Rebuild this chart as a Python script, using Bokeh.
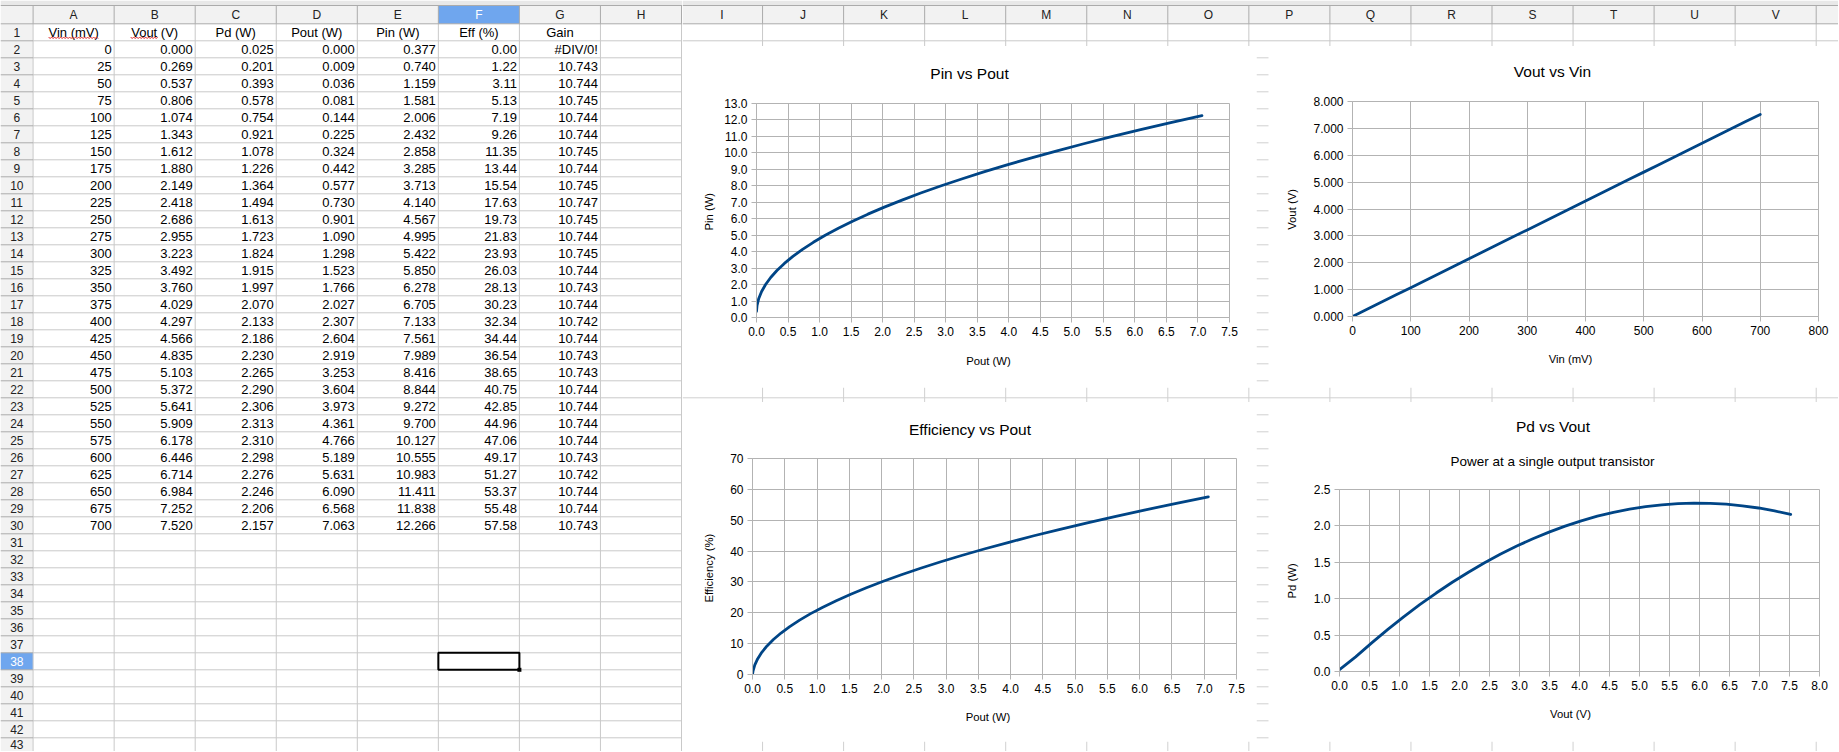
import numpy as np
from bokeh.plotting import figure
from bokeh.models import Range1d, FixedTicker, NumeralTickFormatter
from bokeh.layouts import row, column
from bokeh.core.properties import value
from bokeh.embed import file_html
from bokeh.resources import INLINE

# ---------------- data (read from the sheet) ----------------
vin_mv = [0, 25, 50, 75, 100, 125, 150, 175, 200, 225, 250, 275, 300, 325, 350,
          375, 400, 425, 450, 475, 500, 525, 550, 575, 600, 625, 650, 675, 700]
vout_v = [0.000, 0.269, 0.537, 0.806, 1.074, 1.343, 1.612, 1.880, 2.149, 2.418,
          2.686, 2.955, 3.223, 3.492, 3.760, 4.029, 4.297, 4.566, 4.835, 5.103,
          5.372, 5.641, 5.909, 6.178, 6.446, 6.714, 6.984, 7.252, 7.520]
pd_w = [0.025, 0.201, 0.393, 0.578, 0.754, 0.921, 1.078, 1.226, 1.364, 1.494,
        1.613, 1.723, 1.824, 1.915, 1.997, 2.070, 2.133, 2.186, 2.230, 2.265,
        2.290, 2.306, 2.313, 2.310, 2.298, 2.276, 2.246, 2.206, 2.157]
pout_w = [0.000, 0.009, 0.036, 0.081, 0.144, 0.225, 0.324, 0.442, 0.577, 0.730,
          0.901, 1.090, 1.298, 1.523, 1.766, 2.027, 2.307, 2.604, 2.919, 3.253,
          3.604, 3.973, 4.361, 4.766, 5.189, 5.631, 6.090, 6.568, 7.063]
pin_w = [0.377, 0.740, 1.159, 1.581, 2.006, 2.432, 2.858, 3.285, 3.713, 4.140,
         4.567, 4.995, 5.422, 5.850, 6.278, 6.705, 7.133, 7.561, 7.989, 8.416,
         8.844, 9.272, 9.700, 10.127, 10.555, 10.983, 11.411, 11.838, 12.266]
eff_pct = [0.00, 1.22, 3.11, 5.13, 7.19, 9.26, 11.35, 13.44, 15.54, 17.63,
           19.73, 21.83, 23.93, 26.03, 28.13, 30.23, 32.34, 34.44, 36.54, 38.65,
           40.75, 42.85, 44.96, 47.06, 49.17, 51.27, 53.37, 55.48, 57.58]
gain = [None, 10.743, 10.744, 10.745, 10.744, 10.744, 10.745, 10.744, 10.745,
        10.747, 10.745, 10.744, 10.745, 10.744, 10.743, 10.744, 10.742, 10.744,
        10.743, 10.743, 10.744, 10.744, 10.744, 10.744, 10.743, 10.742, 10.744,
        10.744, 10.743]

headers = ["Vin (mV)", "Vout (V)", "Pd (W)", "Pout (W)", "Pin (W)", "Eff (%)", "Gain"]
col_letters = ["A", "B", "C", "D", "E", "F", "G", "H", "I", "J", "K", "L", "M",
               "N", "O", "P", "Q", "R", "S", "T", "U", "V"]

# ---------------- styling / geometry ----------------
FONT = "Liberation Sans"
SERIES = "#004586"
GRID = "#b3b3b3"
CELL_LINE = "#c9c9c9"
GAP_LINE = "#d0d0d0"
HDR_LINE = "#ababab"
HDR_BG = "#f2f2f2"
TOP_BG = "#e8e8e8"
SEL_BLUE = "#6fa6ee"

VIEW_X0, VIEW_X1, VIEW_Y0, VIEW_Y1 = 0, 1838, 0, 751
ROWHDR_W = 32.6
COL_W = 81.05
HDR_TOP, HDR_BOT = 5.0, 23.3
ROW_H = 17.0
SPLIT_X = 682
BAND_Y = 46
GAP_Y0, GAP_Y1 = 387, 402
BOT_Y = 740
GAP_X0, GAP_X1 = 1256, 1272

col_edges = [ROWHDR_W + COL_W * k for k in range(23)]
row_edges = [HDR_BOT + ROW_H * r for r in range(45)]


def canvas(x0, x1, y0, y1):
    p = figure(width=int(round(x1 - x0)), height=int(round(y1 - y0)),
               x_range=Range1d(x0, x1), y_range=Range1d(y1, y0),
               x_axis_location=None, y_axis_location=None, title=None,
               output_backend="svg", toolbar_location=None, min_border=0)
    p.grid.visible = False
    p.outline_line_color = None
    p.background_fill_color = "white"
    p.border_fill_color = "white"
    return p


def txt(p, xs, ys, ts, align="center", size="13px", color="black", angle=0.0):
    p.text(x=xs, y=ys, text=ts, text_align=align, text_baseline="middle",
           text_font=value(FONT), text_font_size=value(size), text_color=color,
           angle=angle)


# ---------------- left part of the sheet ----------------
sheet = canvas(VIEW_X0, SPLIT_X, VIEW_Y0, VIEW_Y1)
sheet.quad(left=[0], right=[SPLIT_X], top=[0], bottom=[HDR_TOP],
           fill_color=TOP_BG, line_color=None)
sheet.quad(left=[0], right=[SPLIT_X], top=[HDR_TOP], bottom=[HDR_BOT],
           fill_color=HDR_BG, line_color=None)
sheet.quad(left=[0], right=[ROWHDR_W], top=[HDR_BOT], bottom=[760],
           fill_color=HDR_BG, line_color=None)
sheet.quad(left=[col_edges[5]], right=[col_edges[6]], top=[HDR_TOP], bottom=[HDR_BOT],
           fill_color=SEL_BLUE, line_color=None)
sheet.quad(left=[0], right=[ROWHDR_W], top=[row_edges[37]], bottom=[row_edges[38]],
           fill_color=SEL_BLUE, line_color=None)
vx = col_edges[:9]
sheet.segment(x0=vx, y0=[HDR_BOT] * len(vx), x1=vx, y1=[760] * len(vx),
              line_color=CELL_LINE, line_width=1)
sheet.segment(x0=vx, y0=[HDR_TOP] * len(vx), x1=vx, y1=[HDR_BOT] * len(vx),
              line_color=HDR_LINE, line_width=1)
hy = row_edges[1:44]
sheet.segment(x0=[ROWHDR_W] * len(hy), y0=hy, x1=[SPLIT_X] * len(hy), y1=hy,
              line_color=CELL_LINE, line_width=1)
sheet.segment(x0=[0] * len(hy), y0=hy, x1=[ROWHDR_W] * len(hy), y1=hy,
              line_color=HDR_LINE, line_width=1)
sheet.segment(x0=[0, 0], y0=[HDR_TOP, HDR_BOT], x1=[SPLIT_X, SPLIT_X], y1=[HDR_TOP, HDR_BOT],
              line_color=HDR_LINE)
cx = [(col_edges[k] + col_edges[k + 1]) / 2 for k in range(8)]
hdr_mid = (HDR_TOP + HDR_BOT) / 2
txt(sheet, [c for k, c in enumerate(cx) if k != 5], [hdr_mid] * 7,
    [col_letters[k] for k in range(8) if k != 5], size="12px", color="#222222")
txt(sheet, [cx[5]], [hdr_mid], ["F"], size="12px", color="white")
rnum = list(range(1, 44))
rc = [(row_edges[r - 1] + row_edges[r]) / 2 for r in rnum]
rc_lbl = [min(y, VIEW_Y1 - 7) for y in rc]   # keep the last, partly hidden row label on the page
txt(sheet, [ROWHDR_W / 2] * 42, [y for r, y in zip(rnum, rc_lbl) if r != 38],
    [str(r) for r in rnum if r != 38], size="12px", color="#222222")
txt(sheet, [ROWHDR_W / 2], [rc[37]], ["38"], size="12px", color="white")
txt(sheet, cx[:7], [rc[0]] * 7, headers)
for xa, xb in [(cx[0] - 25, cx[0] + 25), (cx[1] - 24, cx[1] + 3)]:
    wx = np.arange(xa, xb + 0.1, 1.5)
    wy = rc[0] + 5.5 + np.where(np.arange(len(wx)) % 2 == 0, -0.8, 0.8)
    sheet.line(wx, wy, line_color="#e03030", line_width=1)
cols_fmt = [
    [f"{v:d}" for v in vin_mv],
    [f"{v:.3f}" for v in vout_v],
    [f"{v:.3f}" for v in pd_w],
    [f"{v:.3f}" for v in pout_w],
    [f"{v:.3f}" for v in pin_w],
    [f"{v:.2f}" for v in eff_pct],
    ["#DIV/0!" if v is None else f"{v:.3f}" for v in gain],
]
for k, vals in enumerate(cols_fmt):
    n = len(vals)
    txt(sheet, [col_edges[k + 1] - 2.5] * n, rc[1:1 + n], vals, align="right")
sheet.quad(left=[col_edges[5]], right=[col_edges[6]], top=[row_edges[37]],
           bottom=[row_edges[38]], fill_color=None, line_color="black", line_width=2)
sheet.rect(x=[col_edges[6]], y=[row_edges[38]], width=4, height=4,
           fill_color="black", line_color=None)

# ---------------- top band over the chart area ----------------
band = canvas(SPLIT_X, VIEW_X1, VIEW_Y0, BAND_Y)
band.quad(left=[SPLIT_X], right=[VIEW_X1 + 10], top=[0], bottom=[HDR_TOP],
          fill_color=TOP_BG, line_color=None)
band.quad(left=[SPLIT_X], right=[VIEW_X1 + 10], top=[HDR_TOP], bottom=[HDR_BOT],
          fill_color=HDR_BG, line_color=None)
bx = col_edges[8:23]
band.segment(x0=bx, y0=[HDR_BOT] * len(bx), x1=bx, y1=[BAND_Y + 2] * len(bx),
             line_color=CELL_LINE)
band.segment(x0=bx, y0=[HDR_TOP] * len(bx), x1=bx, y1=[HDR_BOT] * len(bx),
             line_color=HDR_LINE)
band.segment(x0=[SPLIT_X] * 2, y0=[HDR_TOP, HDR_BOT], x1=[VIEW_X1 + 10] * 2,
             y1=[HDR_TOP, HDR_BOT], line_color=HDR_LINE)
band.segment(x0=[SPLIT_X], y0=[row_edges[1]], x1=[VIEW_X1 + 10], y1=[row_edges[1]],
             line_color=CELL_LINE)
bcx = [(col_edges[k] + col_edges[k + 1]) / 2 for k in range(8, 22)]
txt(band, bcx, [hdr_mid] * len(bcx), col_letters[8:22], size="12px", color="#222222")


# ---------------- gaps between the charts ----------------
def vgap(y0, y1):
    g = canvas(GAP_X0, GAP_X1, y0, y1)
    ys = [y for y in row_edges if y0 < y < y1]
    g.segment(x0=[GAP_X0] * len(ys), y0=ys, x1=[GAP_X1 - 4] * len(ys), y1=ys,
              line_color=GAP_LINE)
    return g


def hgap(y0, y1, with_row_line):
    g = canvas(SPLIT_X, VIEW_X1, y0, y1)
    gx = col_edges[9:23]
    g.segment(x0=gx, y0=[y0] * len(gx), x1=gx, y1=[y1 + 2] * len(gx), line_color=GAP_LINE)
    if with_row_line:
        ys = [y for y in row_edges if y0 < y < y1]
        g.segment(x0=[SPLIT_X] * len(ys), y0=ys, x1=[VIEW_X1 + 10] * len(ys), y1=ys,
                  line_color=GAP_LINE)
    return g


gv1 = vgap(BAND_Y, GAP_Y0)
gv2 = vgap(GAP_Y1, BOT_Y)
gh = hgap(GAP_Y0, GAP_Y1, True)
gb = hgap(BOT_Y, VIEW_Y1, False)


# ---------------- the four charts ----------------
def chart_box(box, frame, T, L, Bc, xr, yr, xticks, yticks, xfmt, yfmt, xs, ys,
              titles, xlabel, ylabel):
    bx0, by0, bx1, by1 = box
    fl, ft, fr, fb = frame
    tc = canvas(bx0, bx1, by0, T)
    for text, px, py, size in titles:
        txt(tc, [px], [py], [text], size=size)
    lc = canvas(bx0, L, T, Bc)
    txt(lc, [ylabel[1]], [ylabel[2]], [ylabel[0]], size="11.3px", angle=np.pi / 2)
    bc = canvas(bx0, bx1, Bc, by1)
    txt(bc, [xlabel[1]], [xlabel[2]], [xlabel[0]], size="11.3px")

    p = figure(width=bx1 - L, height=Bc - T, title=None,
               x_range=Range1d(*xr), y_range=Range1d(*yr),
               min_border_left=fl - L, min_border_right=bx1 - fr,
               min_border_top=ft - T, min_border_bottom=Bc - fb,
               output_backend="svg", toolbar_location=None)
    p.background_fill_color = "white"
    p.border_fill_color = "white"
    p.outline_line_color = GRID
    p.xaxis.ticker = FixedTicker(ticks=xticks, minor_ticks=[])
    p.yaxis.ticker = FixedTicker(ticks=yticks, minor_ticks=[])
    p.xaxis.formatter = NumeralTickFormatter(format=xfmt)
    p.yaxis.formatter = NumeralTickFormatter(format=yfmt)
    for ax in (p.xaxis[0], p.yaxis[0]):
        ax.axis_line_color = GRID
        ax.major_tick_line_color = GRID
        ax.major_tick_out = 5
        ax.major_tick_in = 0
        ax.minor_tick_line_color = None
        ax.major_label_text_font = FONT
        ax.major_label_text_font_size = "12px"
        ax.major_label_text_color = "black"
        ax.major_label_standoff = 4
    p.grid.grid_line_color = GRID
    p.grid.grid_line_width = 1
    p.line(xs, ys, line_color=SERIES, line_width=2.8, line_join="round", line_cap="round")
    return column(tc, row(lc, p), bc)


half_steps_75 = [round(0.5 * i, 1) for i in range(16)]
half_steps_80 = [round(0.5 * i, 1) for i in range(17)]

c1 = chart_box((SPLIT_X, BAND_Y, GAP_X0, GAP_Y0), (756, 103, 1229, 317), 91, 718, 346,
               (0, 7.5), (0, 13), half_steps_75, list(range(14)), "0.0", "0.0",
               pout_w, pin_w,
               [("Pin vs Pout", 969, 73.3, "15.5px")],
               ("Pout (W)", 988, 360), ("Pin (W)", 708, 220))
c2 = chart_box((GAP_X1, BAND_Y, VIEW_X1, GAP_Y0), (1352, 101, 1818, 316), 89, 1305, 345,
               (0, 800), (0, 8), list(range(0, 801, 100)), list(range(9)), "0", "0.000",
               vin_mv, vout_v,
               [("Vout vs Vin", 1552, 71, "15.5px")],
               ("Vin (mV)", 1570, 358), ("Vout (V)", 1291.5, 217.5))
c3 = chart_box((SPLIT_X, GAP_Y1, GAP_X0, BOT_Y), (752, 458, 1236, 674), 446, 718, 702,
               (0, 7.5), (0, 70), half_steps_75, list(range(0, 71, 10)), "0.0", "0",
               pout_w, eff_pct,
               [("Efficiency vs Pout", 969.5, 429, "15.5px")],
               ("Pout (W)", 987.5, 716), ("Efficiency (%)", 708.5, 576))
c4 = chart_box((GAP_X1, GAP_Y1, VIEW_X1, BOT_Y), (1339, 489, 1819, 671), 477, 1302, 699,
               (0, 8), (0, 2.5), half_steps_80, [0, 0.5, 1.0, 1.5, 2.0, 2.5], "0.0", "0.0",
               vout_v, pd_w,
               [("Pd vs Vout", 1552.5, 426, "15.5px"),
                ("Power at a single output transistor", 1552, 461, "13.5px")],
               ("Vout (V)", 1570, 713), ("Pd (W)", 1291.5, 588.5))

right = column(band, row(c1, gv1, c2), gh, row(c3, gv2, c4), gb)
p = row(sheet, right)

open("out.html", "w").write(file_html(p, INLINE))
